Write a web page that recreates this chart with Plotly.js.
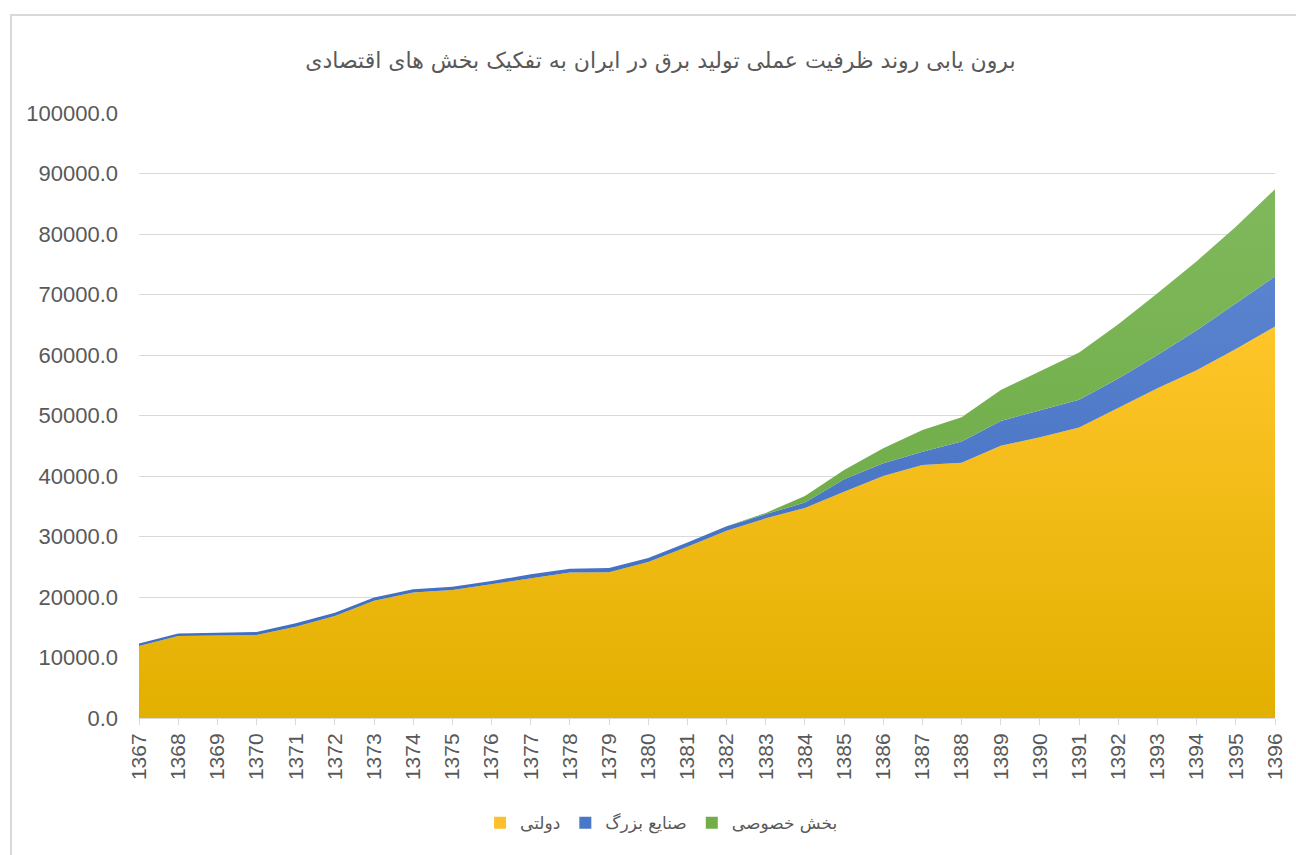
<!DOCTYPE html>
<html>
<head>
<meta charset="utf-8">
<script src="https://cdn.plot.ly/plotly-3.0.1.min.js"></script>
<style>
  html, body { margin: 0; padding: 0; background: #ffffff; }
  #wrap { position: relative; width: 1296px; height: 855px; overflow: hidden; }
  #chart { position: absolute; left: 0; top: 0; width: 1296px; height: 855px; }
  #frame { position: absolute; left: 10px; top: 14px; width: 1400px; height: 900px;
           border-left: 2px solid #d9d9d9; border-top: 2px solid #d9d9d9; pointer-events: none; }
</style>
</head>
<body>
<div id="wrap">
  <div id="chart"></div>
  <div id="frame"></div>
</div>
<script>
const years = ['1367','1368','1369','1370','1371','1372','1373','1374','1375','1376',
               '1377','1378','1379','1380','1381','1382','1383','1384','1385','1386',
               '1387','1388','1389','1390','1391','1392','1393','1394','1395','1396'];

// دولتی (government)
const government = [11900, 13550, 13650, 13700, 15100, 16850, 19400, 20750, 21150, 22100,
                    23100, 24050, 24100, 25800, 28300, 30950, 33000, 34700, 37400, 40000,
                    41800, 42200, 45000, 46400, 48000, 51300, 54500, 57500, 61000, 64700];

// صنایع بزرگ (large industries)
const largeIndustries = [400, 400, 450, 500, 550, 550, 500, 550, 550, 550,
                         650, 600, 700, 650, 700, 750, 700, 900, 2050, 2100,
                         2200, 3500, 4100, 4400, 4600, 4800, 5500, 6600, 7500, 8300];

// بخش خصوصی (private sector)
const privateSector = [0, 0, 0, 0, 0, 0, 0, 0, 0, 0,
                       0, 0, 0, 0, 0, 0, 200, 1100, 1550, 2500,
                       3600, 4000, 5100, 6500, 7800, 9000, 10200, 11400, 12700, 14400];

const seriesNames = ['دولتی', 'صنایع بزرگ', 'بخش خصوصی'];
const seriesColors = ['#fcc12a', '#4a78c8', '#72ad4a'];
const titleText = 'برون یابی روند ظرفیت عملی تولید برق در ایران به تفکیک بخش های اقتصادی';

function areaTrace(name, values, cBottom, cTop) {
  return {
    type: 'scatter',
    mode: 'lines',
    name: name,
    x: years,
    y: values,
    stackgroup: 'one',
    line: { width: 0, color: cTop },
    fillcolor: cTop,
    fillgradient: { type: 'vertical', colorscale: [[0, cBottom], [1, cTop]] },
    showlegend: false,
    hoverinfo: 'skip'
  };
}

// legend-only entries (square swatches like the original)
function legendTrace(name, color) {
  return {
    type: 'bar',
    name: name,
    x: [null],
    y: [null],
    marker: { color: color, line: { width: 0 } },
    showlegend: true,
    hoverinfo: 'skip'
  };
}

const data = [
  areaTrace(seriesNames[0], government, '#e2b000', '#ffc52a'),
  areaTrace(seriesNames[1], largeIndustries, '#3f6dc0', '#5b84cf'),
  areaTrace(seriesNames[2], privateSector, '#6aa842', '#80b95c'),
  legendTrace(seriesNames[0], seriesColors[0]),
  legendTrace(seriesNames[1], seriesColors[1]),
  legendTrace(seriesNames[2], seriesColors[2])
];

const layout = {
  width: 1296,
  height: 855,
  paper_bgcolor: '#ffffff',
  plot_bgcolor: '#ffffff',
  margin: { l: 139, r: 21, t: 113, b: 137 },
  showlegend: true,
  title: {
    text: titleText,
    font: { family: 'DejaVu Sans, Noto Sans, sans-serif', size: 22, color: '#595959' },
    x: 0.459, xanchor: 'center', xref: 'paper',
    y: 0.93, yanchor: 'middle'
  },
  xaxis: {
    type: 'category',
    range: [0, years.length - 1],
    showgrid: false,
    showline: true,
    linecolor: '#d9d9d9',
    linewidth: 1,
    ticks: 'outside',
    ticklen: 6,
    tickcolor: '#d9d9d9',
    tickangle: -90,
    tickfont: { family: 'Liberation Sans, Arial, sans-serif', size: 21, color: '#595959' },
    zeroline: false
  },
  yaxis: {
    range: [0, 100000],
    dtick: 10000,
    tickformat: '.1f',
    showgrid: true,
    gridcolor: '#d9d9d9',
    gridwidth: 1,
    showline: false,
    zeroline: false,
    ticks: '',
    ticklabelstandoff: 20,
    tickfont: { family: 'Liberation Sans, Arial, sans-serif', size: 22, color: '#595959' }
  },
  legend: {
    orientation: 'h',
    x: 0.46, xanchor: 'center',
    y: -0.174, yanchor: 'middle',
    font: { family: 'DejaVu Sans, Noto Sans, sans-serif', size: 17, color: '#595959' },
    traceorder: 'normal',
    itemwidth: 30
  },
  hovermode: false
};

Plotly.newPlot('chart', data, layout, { displayModeBar: false, staticPlot: true });
</script>
</body>
</html>
